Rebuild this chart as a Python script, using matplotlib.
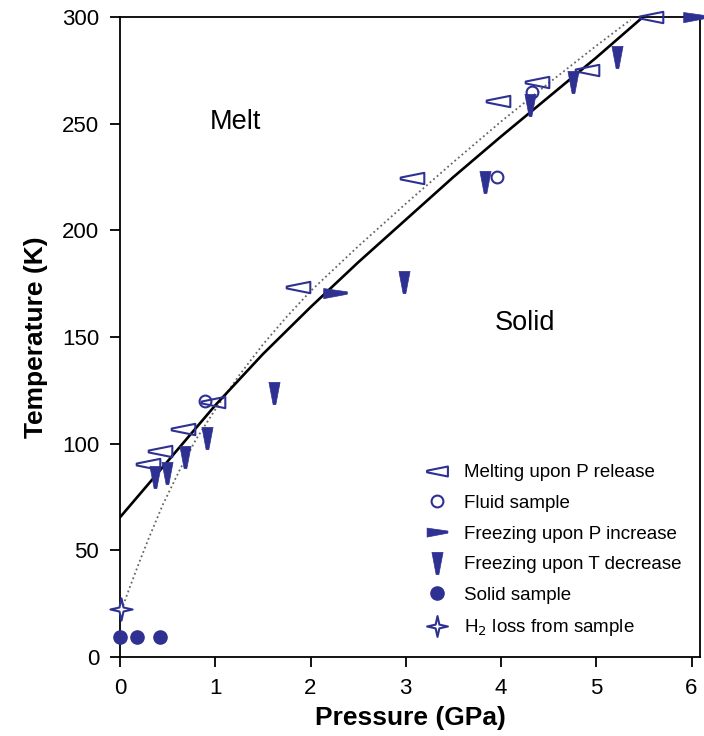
import matplotlib
matplotlib.use("Agg")
import matplotlib.pyplot as plt
from matplotlib.path import Path
from matplotlib.lines import Line2D

plt.rcParams['font.family'] = ['Liberation Sans', 'DejaVu Sans']

# ---- data ----
melt_P = [0.29, 0.42, 0.66, 0.98, 1.87, 3.07, 3.97, 4.38, 4.90, 5.57]
melt_T = [90.5, 96.6, 107.0, 119.5, 173.5, 224.5, 260.7, 269.6, 275.0, 300.0]

fluid_P = [0.89, 3.96, 4.32]
fluid_T = [120.0, 225.0, 265.0]

frzP_P = [2.26, 6.04]
frzP_T = [170.6, 300.0]

frzT_P = [0.37, 0.49, 0.68, 0.91, 1.62, 2.98, 3.83, 4.30, 4.76, 5.22]
frzT_T = [84.4, 86.2, 93.8, 102.7, 123.8, 175.8, 222.7, 258.8, 269.6, 281.3]

solid_P = [0.0, 0.18, 0.42]
solid_T = [9.4, 9.4, 9.4]

loss_P = [0.01]
loss_T = [22.5]

# melting curve (solid) and alternative fit (dotted)
curve_P = [0.0, 0.3, 0.6, 1.0, 1.5, 2.0, 2.5, 3.0, 3.5, 4.0, 4.5, 5.0, 5.49]
curve_T = [65.5, 81.2, 97.0, 118.0, 142.0, 164.0, 185.0, 205.0, 225.0, 244.0, 262.5, 281.0, 300.0]

dot_P = [0.0, 0.05, 0.1, 0.2, 0.3, 0.45, 0.63, 0.8, 1.0, 1.25, 1.5, 1.75, 2.0,
         2.5, 3.0, 3.5, 4.0, 4.5, 5.0, 5.36]
dot_T = [20.0, 26.3, 32.4, 44.2, 55.5, 71.5, 88.0, 102.2, 116.0, 132.0, 146.5, 159.5, 171.5,
         192.5, 212.5, 232.0, 251.0, 269.0, 286.5, 298.7]

xticks = [0, 1, 2, 3, 4, 5, 6]
yticks = [0, 50, 100, 150, 200, 250, 300]

labels = ["Melting upon P release", "Fluid sample", "Freezing upon P increase",
          "Freezing upon T decrease", "Solid sample", "H$_2$ loss from sample"]

# ---- marker shapes ----
blue = '#2e3192'

def mk(verts):
    v = list(verts) + [verts[0]]
    codes = [Path.MOVETO] + [Path.LINETO] * (len(verts) - 1) + [Path.CLOSEPOLY]
    return Path(v, codes)

m_melt = mk([(-1, 0.08), (1, 0.48), (1, -0.48), (-1, -0.08)])
m_frzP = mk([(-1, 0.42), (1, 0.14), (1, -0.06), (-1, -0.44)])
m_frzT = mk([(-0.5, 1), (0.5, 1), (0.12, -1), (-0.12, -1)])
m_star = mk([(0, 1), (0.18, 0.18), (1, 0), (0.18, -0.18), (0, -1), (-0.18, -0.18), (-1, 0), (-0.18, 0.18)])

fig = plt.figure(figsize=(7.04, 7.36), dpi=100)
ax = fig.add_axes([0.1705, 0.1073, 0.824, 0.8696])

ax.plot(dot_P, dot_T, linestyle=(0, (1, 1.6)), color='#666666', lw=1.3, zorder=2)
ax.plot(curve_P, curve_T, color='black', lw=1.9, zorder=2)

kw = dict(linestyle='none', clip_on=False, zorder=4)
ax.plot(melt_P, melt_T, marker=m_melt, ms=17, mfc='none', mec=blue, mew=1.5, **kw)
ax.plot(fluid_P, fluid_T, marker='o', ms=8.5, mfc='none', mec=blue, mew=1.5, **kw)
ax.plot(frzP_P, frzP_T, marker=m_frzP, ms=17, mfc=blue, mec=blue, mew=0.5, **kw)
ax.plot(frzT_P, frzT_T, marker=m_frzT, ms=16, mfc=blue, mec=blue, mew=0.5, **kw)
ax.plot(solid_P, solid_T, marker='o', ms=9.5, mfc=blue, mec=blue, **kw)
ax.plot(loss_P, loss_T, marker=m_star, ms=16, mfc='white', mec=blue, mew=1.5, **kw)

ax.set_xlim(0, 6.09)
ax.set_ylim(0, 300)
ax.set_xticks(xticks)
ax.set_yticks(yticks)
ax.tick_params(direction='out', length=7, width=1.3, labelsize=16, pad=8)
ax.tick_params(top=False, right=False)
for s in ax.spines.values():
    s.set_linewidth(1.3)

ax.set_xlabel("Pressure (GPa)", fontsize=19, fontweight='bold', labelpad=5)
ax.set_ylabel("Temperature (K)", fontsize=19, fontweight='bold', labelpad=10)

ax.text(1.21, 250.8, "Melt", fontsize=19.5, ha='center', va='center')
ax.text(4.25, 156.6, "Solid", fontsize=19.5, ha='center', va='center')

handles = [
    Line2D([], [], linestyle='none', marker=m_melt, ms=15, mfc='none', mec=blue, mew=1.5),
    Line2D([], [], linestyle='none', marker='o', ms=8.5, mfc='none', mec=blue, mew=1.5),
    Line2D([], [], linestyle='none', marker=m_frzP, ms=15, mfc=blue, mec=blue, mew=0.5),
    Line2D([], [], linestyle='none', marker=m_frzT, ms=16, mfc=blue, mec=blue, mew=0.5),
    Line2D([], [], linestyle='none', marker='o', ms=9.5, mfc=blue, mec=blue),
    Line2D([], [], linestyle='none', marker=m_star, ms=15, mfc='white', mec=blue, mew=1.5),
]
ax.legend(handles, labels, loc='lower right', bbox_to_anchor=(1.0, 0.0), frameon=False,
          fontsize=13.5, labelspacing=0.72, handlelength=1.4, handletextpad=0.75,
          borderaxespad=0.6)

fig.savefig("out.png", dpi=100)
